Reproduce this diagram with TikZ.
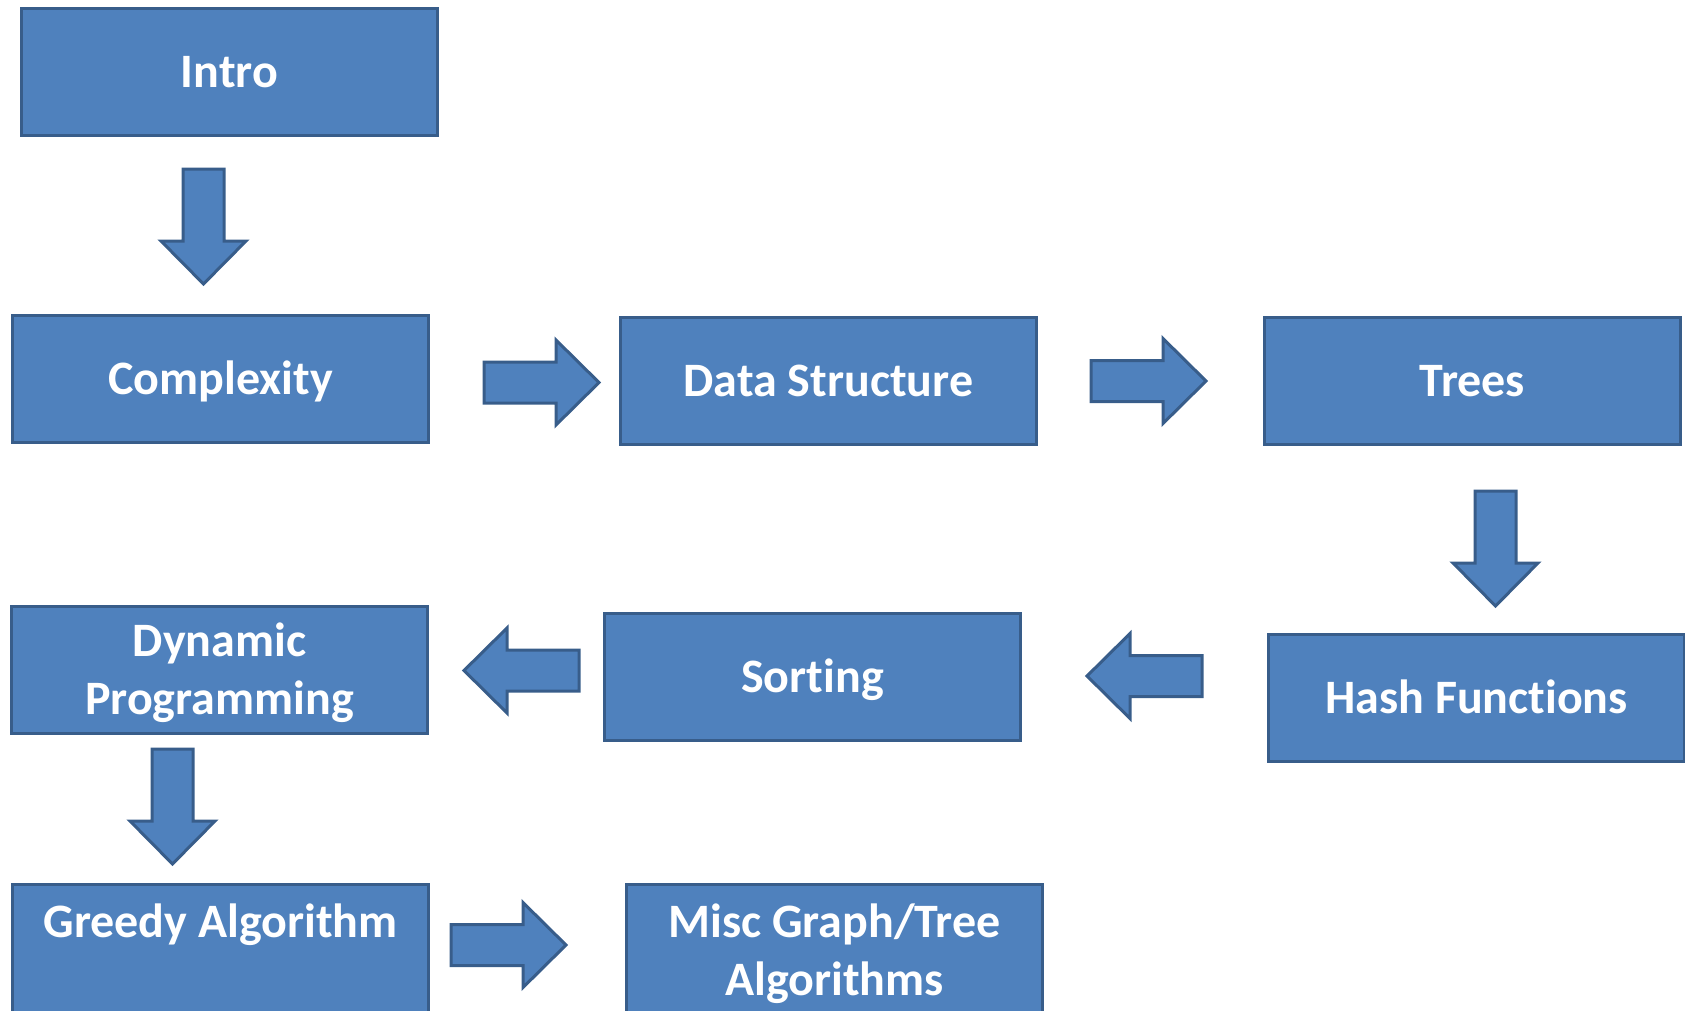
\documentclass[tikz,border=0pt]{standalone}
\usepackage{fontspec}
\setmainfont[Ligatures=NoCommon]{Carlito}
\definecolor{boxfill}{HTML}{4F81BD}
\definecolor{boxline}{HTML}{385D8A}
\begin{document}
\begin{tikzpicture}[x=1pt,y=-1pt,
  box/.style={draw=boxline, fill=boxfill, line width=3pt, minimum width=416pt,
    minimum height=127pt, text=white, font=\bfseries\fontsize{48}{58}\selectfont,
    align=center, text height=31pt, text depth=0pt, inner sep=0pt, anchor=north west},
  twoline/.style={text height=89pt},
  topbox/.style={box, minimum height=0pt, inner ysep=21.5pt, text depth=#1},
  arrowstyle/.style={draw=boxline, fill=boxfill, line width=3pt, line join=miter},
  barrow/.pic={\draw[arrowstyle] (0,-20.5) -- (72,-20.5) -- (72,-42.5) -- (115,0)
    -- (72,42.5) -- (72,20.5) -- (0,20.5) -- cycle;}]
\clip (0,0) rectangle (1685,1010);
% boxes
\node[box] (intro)  at (20,7)     {Intro};
\node[box] (cx)     at (11,314)   {Complexity};
\node[box] (ds)     at (619,316)  {Data Structure};
\node[box] (trees)  at (1263,316) {Trees};
\node[box] (hash)   at (1267,633) {Hash Functions};
\node[box] (sort)   at (603,612)  {Sorting};
\node[box, twoline] (dp) at (10,605) {Dynamic\\Programming};
\node[topbox=110pt] (greedy) at (11,883)  {Greedy Algorithm};
\node[topbox=60pt, twoline] (misc) at (625,883) {Misc Graph/Tree\\Algorithms};
% block arrows
\coordinate (t1) at (203.5,169);
\coordinate (t2) at (484,382.5);
\coordinate (t3) at (1091,381);
\coordinate (t4) at (1495.5,491);
\coordinate (t5) at (1202,676);
\coordinate (t6) at (579,670.5);
\coordinate (t7) at (172.5,749);
\coordinate (t8) at (451,945);
\pic[rotate=-90] (a1) at (t1) {barrow};
\pic (a2) at (t2) {barrow};
\pic (a3) at (t3) {barrow};
\pic[rotate=-90] (a4) at (t4) {barrow};
\pic[rotate=180] (a5) at (t5) {barrow};
\pic[rotate=180] (a6) at (t6) {barrow};
\pic[rotate=-90] (a7) at (t7) {barrow};
\pic (a8) at (t8) {barrow};
\end{tikzpicture}
\end{document}
